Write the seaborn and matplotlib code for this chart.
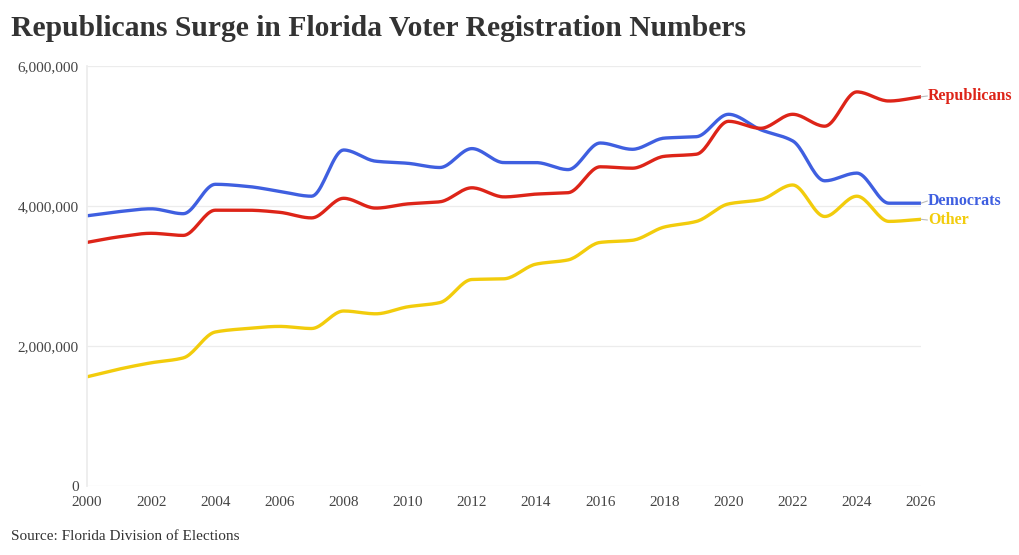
import numpy as np
import pandas as pd
import matplotlib
matplotlib.use("Agg")
import matplotlib.pyplot as plt
import seaborn as sns
from matplotlib.ticker import FuncFormatter

# 年ごとの登録者数（図から読み取り、単位: 百万人）
YEARS = list(range(2000, 2027))
REPUBLICANS = [3.48, 3.56, 3.61, 3.58, 3.94, 3.94, 3.91, 3.83, 4.11, 3.97,
               4.03, 4.06, 4.26, 4.13, 4.17, 4.19, 4.56, 4.54, 4.71, 4.74,
               5.21, 5.11, 5.31, 5.14, 5.63, 5.50, 5.56]
DEMOCRATS = [3.86, 3.92, 3.96, 3.89, 4.31, 4.28, 4.21, 4.14, 4.80, 4.64,
             4.61, 4.55, 4.82, 4.62, 4.62, 4.52, 4.90, 4.81, 4.97, 4.99,
             5.31, 5.09, 4.93, 4.36, 4.47, 4.04, 4.04]
OTHER = [1.56, 1.67, 1.76, 1.83, 2.20, 2.25, 2.28, 2.25, 2.50, 2.46,
         2.56, 2.62, 2.95, 2.96, 3.17, 3.23, 3.48, 3.51, 3.70, 3.78,
         4.03, 4.09, 4.30, 3.85, 4.14, 3.78, 3.81]
PARTIES = ["Republicans", "Democrats", "Other"]
COLORS = {"Republicans": "#dd2418", "Democrats": "#3f5fe0", "Other": "#f2cc0c"}

SERIF = ["Liberation Serif", "DejaVu Serif"]


def monotone_curve(x, y, n=20):
    """単調3次補間で線を滑らかに描くための点列（描画用）"""
    x = np.asarray(x, float)
    y = np.asarray(y, float)
    h = np.diff(x)
    d = np.diff(y) / h
    m = np.zeros_like(y)
    m[0], m[-1] = d[0], d[-1]
    for i in range(1, len(y) - 1):
        if d[i - 1] * d[i] <= 0:
            m[i] = 0
        else:
            w1 = 2 * h[i] + h[i - 1]
            w2 = h[i] + 2 * h[i - 1]
            m[i] = (w1 + w2) / (w1 / d[i - 1] + w2 / d[i])
    xs, ys = [], []
    for i in range(len(x) - 1):
        t = np.linspace(0, 1, n, endpoint=(i == len(x) - 2))
        h00 = 2 * t**3 - 3 * t**2 + 1
        h10 = t**3 - 2 * t**2 + t
        h01 = -2 * t**3 + 3 * t**2
        h11 = t**3 - t**2
        xs.append(x[i] + t * h[i])
        ys.append(h00 * y[i] + h10 * h[i] * m[i] + h01 * y[i + 1] + h11 * h[i] * m[i + 1])
    return np.concatenate(xs), np.concatenate(ys)


sns.set_theme(style="white")
plt.rcParams['font.family'] = SERIF

df = pd.DataFrame({"year": YEARS, "Republicans": REPUBLICANS,
                   "Democrats": DEMOCRATS, "Other": OTHER})
for p in PARTIES:
    df[p] = df[p] * 1e6

fig = plt.figure(figsize=(10.2, 5.55), dpi=100)
ax = fig.add_axes([87 / 1020, 1 - 486 / 555, (921 - 87) / 1020, (486 - 66) / 555])

frames = []
for p in PARTIES:
    xs, ys = monotone_curve(df["year"], df[p])
    frames.append(pd.DataFrame({"year": xs, "voters": ys, "party": p}))
smooth = pd.concat(frames, ignore_index=True)

# 描画順: Other → Democrats → Republicans
sns.lineplot(data=smooth, x="year", y="voters", hue="party",
             hue_order=["Other", "Democrats", "Republicans"],
             palette=COLORS, linewidth=2.4, legend=False, ax=ax, sort=False,
             estimator=None)

ax.set_xlim(2000, 2026)
ax.set_ylim(0, 6e6)
ax.set_xticks(range(2000, 2027, 2))
ax.set_yticks([0, 2e6, 4e6, 6e6])
ax.yaxis.set_major_formatter(FuncFormatter(lambda v, _: f"{int(v):,}"))
ax.grid(axis="y", color="#ececec", linewidth=0.9)
ax.grid(axis="x", visible=False)
for s in ["top", "right", "bottom"]:
    ax.spines[s].set_visible(False)
ax.spines["left"].set_color("#ececec")
ax.tick_params(axis="both", length=4, color="#dddddd", labelsize=11,
               labelcolor="#444444", pad=2)
ax.tick_params(axis="x", pad=3)
ax.set_xlabel("")
ax.set_ylabel("")

# 線の終点ラベル
label_y = {"Republicans": 96, "Democrats": 201, "Other": 220}
for p in PARTIES:
    end = df[p].iloc[-1]
    ypix = label_y[p]
    yval = (486 - ypix) / 420 * 6e6
    ax.plot([2026, 2026.2], [end, yval], color="#bbbbbb", lw=0.8, clip_on=False)
    ax.text(2026.22, yval, p, color=COLORS[p], fontsize=11.5, fontweight="bold",
            va="center", ha="left", clip_on=False)

fig.text(11 / 1020, 1 - 29 / 555, "Republicans Surge in Florida Voter Registration Numbers",
         fontsize=21.3, fontweight="bold", color="#333333", va="center", ha="left")
fig.text(11 / 1020, 1 - 536 / 555, "Source: Florida Division of Elections",
         fontsize=11, color="#333333", va="center", ha="left")

fig.savefig("out.png", dpi=100)
